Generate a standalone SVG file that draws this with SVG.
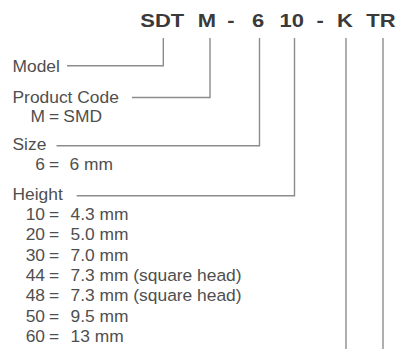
<svg xmlns="http://www.w3.org/2000/svg" width="401" height="349" viewBox="0 0 401 349">
<style>
.hd{font-family:"Liberation Sans",Arial,sans-serif;font-weight:bold;font-size:18px;fill:#3a3a3a;text-anchor:middle}
.t{font-family:"Liberation Sans",Arial,sans-serif;font-size:17.4px;fill:#4f4f4f}
.n{text-anchor:end}
.c{fill:none;stroke:#8c8c8c;stroke-width:1.4}
</style>
<rect width="401" height="349" fill="#ffffff"/>
<g id="header">
<text class="hd" transform="translate(162.2 26.5) scale(1.22 1)">SDT</text>
<text class="hd" transform="translate(207 26.5) scale(1.22 1)">M</text>
<text class="hd" transform="translate(230.9 26.5) scale(1.22 1)">-</text>
<text class="hd" transform="translate(258 26.5) scale(1.22 1)">6</text>
<text class="hd" transform="translate(291.7 26.5) scale(1.22 1)">10</text>
<text class="hd" transform="translate(320.2 26.5) scale(1.22 1)">-</text>
<text class="hd" transform="translate(345 26.5) scale(1.22 1)">K</text>
<text class="hd" transform="translate(380.9 26.5) scale(1.22 1)">TR</text>
</g>
<g id="connectors">
<polyline class="c" points="67,65.7 163.3,65.7 163.3,38"/>
<polyline class="c" points="132,97.5 210,97.5 210,38"/>
<polyline class="c" points="56.5,145.7 259.5,145.7 259.5,38"/>
<polyline class="c" points="76.7,195.7 294.5,195.7 294.5,38"/>
<line class="c" x1="346" y1="38" x2="346" y2="349"/>
<line class="c" x1="383" y1="38" x2="383" y2="349"/>
</g>
<g id="model">
<text class="t" x="12.5" y="72.3">Model</text>
</g>
<g id="product-code">
<text class="t" x="12.5" y="102.5">Product Code</text>
<text class="t n" x="45" y="122">M</text>
<text class="t" x="49" y="122">=</text>
<text class="t" x="63.3" y="122">SMD</text>
</g>
<g id="size">
<text class="t" x="12.5" y="150">Size</text>
<text class="t n" x="45" y="170">6</text>
<text class="t" x="49" y="170">=</text>
<text class="t" x="69.5" y="170">6 mm</text>
</g>
<g id="height">
<text class="t" x="12.5" y="200">Height</text>
<text class="t n" x="45" y="220">10</text><text class="t" x="49" y="220">=</text><text class="t" x="70.5" y="220">4.3 mm</text>
<text class="t n" x="45" y="240.3">20</text><text class="t" x="49" y="240.3">=</text><text class="t" x="70.5" y="240.3">5.0 mm</text>
<text class="t n" x="45" y="260.6">30</text><text class="t" x="49" y="260.6">=</text><text class="t" x="70.5" y="260.6">7.0 mm</text>
<text class="t n" x="45" y="280.9">44</text><text class="t" x="49" y="280.9">=</text><text class="t" x="70.5" y="280.9">7.3 mm (square head)</text>
<text class="t n" x="45" y="301.2">48</text><text class="t" x="49" y="301.2">=</text><text class="t" x="70.5" y="301.2">7.3 mm (square head)</text>
<text class="t n" x="45" y="321.5">50</text><text class="t" x="49" y="321.5">=</text><text class="t" x="70.5" y="321.5">9.5 mm</text>
<text class="t n" x="45" y="341.8">60</text><text class="t" x="49" y="341.8">=</text><text class="t" x="70.5" y="341.8">13 mm</text>
</g>
</svg>
